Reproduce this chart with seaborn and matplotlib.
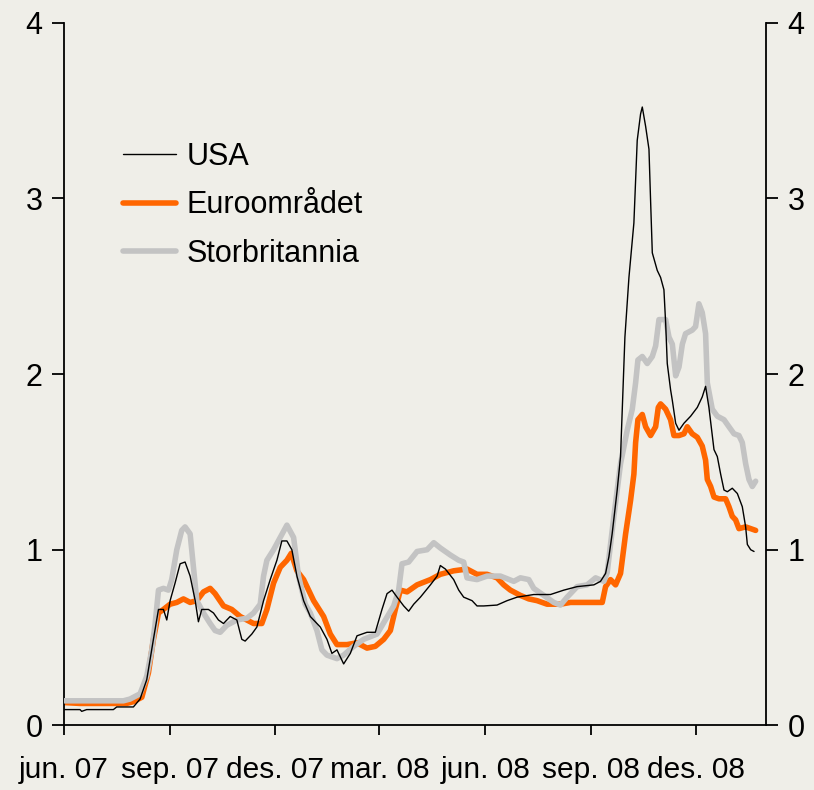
import pandas as pd
import numpy as np
import matplotlib
matplotlib.use('Agg')
import matplotlib.pyplot as plt
import seaborn as sns

# Data: days since 1 June 2007 and spread values
usa_days = [0, 13.9, 15.4, 19.7, 42.9, 45.8, 60.3, 66.1, 71.9, 77.7, 82.1, 86.4, 89.3, 92.2, 96.5,
            100.9, 105.2, 109.6, 114.0, 116.8, 119.7, 125.5, 129.9, 134.2, 138.6, 144.4, 150.2,
            154.5, 157.4, 163.2, 167.6, 173.4, 179.2, 185.0, 189.3, 193.7, 198.0, 202.4, 208.2,
            214.0, 222.7, 228.5, 232.8, 237.2, 243.0, 248.8, 254.6, 263.3, 270.5, 276.3, 280.7,
            285.0, 289.4, 295.2, 299.5, 303.9, 309.7, 318.4, 324.2, 327.0, 331.4, 338.6, 343.0,
            347.3, 354.6, 358.9, 364.7, 376.3, 385.0, 393.7, 408.2, 422.7, 434.3, 445.9, 460.4,
            466.2, 470.6, 473.5, 476.3, 480.7, 483.6, 487.4, 490.9, 495.2, 498.1, 501.0, 502.5,
            505.4, 508.3, 509.7, 511.2, 515.5, 518.4, 521.3, 522.8, 524.2, 527.1, 528.6, 531.5,
            534.4, 538.7, 544.5, 550.3, 554.6, 557.5, 560.4, 564.8, 567.7, 570.6, 573.5, 576.4,
            580.7, 585.1, 589.4, 592.3, 593.8, 596.7, 599.6]
usa_vals = [0.09, 0.09, 0.08, 0.09, 0.09, 0.105, 0.105, 0.15, 0.26, 0.49, 0.66, 0.66, 0.60, 0.71, 0.81,
            0.92, 0.93, 0.85, 0.71, 0.59, 0.66, 0.66, 0.64, 0.60, 0.58, 0.62, 0.60,
            0.49, 0.48, 0.52, 0.56, 0.71, 0.83, 0.94, 1.05, 1.05, 1.00, 0.85, 0.71,
            0.62, 0.56, 0.49, 0.41, 0.43, 0.35, 0.41, 0.51, 0.53, 0.53, 0.66, 0.75,
            0.77, 0.73, 0.68, 0.65, 0.69, 0.73, 0.80, 0.85, 0.91, 0.89, 0.83, 0.77,
            0.73, 0.71, 0.68, 0.68, 0.685, 0.71, 0.73, 0.745, 0.745, 0.77, 0.79, 0.80,
            0.82, 0.865, 0.96, 1.09, 1.34, 1.53, 2.21, 2.55, 2.86, 3.33, 3.48, 3.52,
            3.41, 3.28, 2.99, 2.69, 2.59, 2.55, 2.48, 2.29, 2.06, 1.91, 1.85, 1.72,
            1.68, 1.72, 1.76, 1.81, 1.87, 1.93, 1.81, 1.57, 1.53, 1.43, 1.34, 1.33,
            1.35, 1.32, 1.245, 1.13, 1.03, 1.00, 0.99]

euro_days = [0, 13.9, 54.5, 60.3, 67.6, 73.4, 77.7, 82.1, 86.4, 92.2, 98.0, 103.8, 109.6, 115.4,
             121.2, 127.0, 131.3, 138.6, 145.8, 153.1, 158.9, 164.7, 171.9, 176.3, 182.1, 187.9,
             193.7, 197.5, 202.4, 208.2, 216.9, 225.6, 231.4, 237.2, 245.9, 254.6, 263.3, 270.5,
             277.8, 283.6, 287.9, 292.3, 298.1, 306.8, 318.4, 327.0, 338.6, 350.2, 358.9, 367.6,
             376.3, 382.1, 387.9, 396.6, 403.9, 411.1, 419.8, 431.4, 440.1, 454.6, 467.7, 470.6,
             474.9, 479.3, 483.6, 488.0, 492.3, 495.2, 496.7, 498.7, 502.5, 505.4, 509.7, 514.1,
             516.4, 518.4, 522.8, 527.1, 530.0, 534.4, 538.7, 541.6, 545.9, 550.3, 554.6, 557.5,
             559.0, 561.9, 564.8, 569.1, 574.9, 577.8, 580.7, 583.6, 586.5, 592.3, 596.7, 601.0]
euro_vals = [0.13, 0.125, 0.125, 0.135, 0.16, 0.30, 0.49, 0.64, 0.66, 0.69, 0.70, 0.72, 0.70, 0.71,
             0.76, 0.78, 0.75, 0.68, 0.66, 0.62, 0.60, 0.58, 0.58, 0.66, 0.81, 0.90,
             0.94, 0.98, 0.88, 0.83, 0.71, 0.62, 0.52, 0.46, 0.46, 0.47, 0.44, 0.45,
             0.49, 0.54, 0.66, 0.77, 0.76, 0.80, 0.83, 0.86, 0.88, 0.89, 0.86, 0.86,
             0.84, 0.80, 0.77, 0.74, 0.72, 0.71, 0.69, 0.69, 0.70, 0.70, 0.70, 0.79,
             0.83, 0.80, 0.865, 1.09, 1.28, 1.43, 1.61, 1.74, 1.77, 1.70, 1.65, 1.70,
             1.81, 1.83, 1.80, 1.74, 1.65, 1.65, 1.66, 1.70, 1.66, 1.64, 1.59, 1.51,
             1.40, 1.36, 1.30, 1.29, 1.29, 1.245, 1.19, 1.17, 1.12, 1.13, 1.12, 1.11]

uk_days = [0, 51.6, 57.4, 66.1, 71.9, 76.3, 79.2, 82.1, 86.4, 90.8, 93.6, 98.0, 102.3, 105.2,
           109.6, 112.5, 115.4, 121.2, 127.0, 131.3, 135.7, 141.5, 150.2, 158.9, 164.7, 170.5,
           173.4, 176.3, 182.1, 187.9, 193.7, 199.5, 203.8, 209.6, 214.0, 219.8, 224.1, 228.5,
           237.2, 243.0, 251.7, 260.4, 272.0, 279.2, 286.5, 290.8, 293.7, 299.5, 306.8, 315.5,
           321.3, 327.0, 335.7, 343.0, 347.3, 350.2, 358.9, 367.6, 379.2, 390.8, 396.6, 403.9,
           408.2, 416.9, 425.6, 431.4, 437.2, 445.9, 454.6, 461.9, 469.1, 472.0, 477.8, 483.6,
           489.4, 493.8, 496.7, 498.7, 502.5, 506.8, 511.2, 514.1, 517.0, 522.8, 525.7, 528.6,
           531.5, 534.4, 537.3, 540.1, 545.9, 548.8, 551.7, 554.6, 557.5, 559.0, 563.3, 567.7,
           573.5, 577.8, 582.2, 586.5, 589.4, 592.3, 595.2, 598.1, 601.0]
uk_vals = [0.14, 0.14, 0.15, 0.18, 0.28, 0.43, 0.58, 0.77, 0.78, 0.77, 0.83, 1.00, 1.11, 1.13,
           1.09, 0.90, 0.71, 0.64, 0.58, 0.54, 0.53, 0.57, 0.60, 0.61, 0.64, 0.69,
           0.85, 0.94, 1.00, 1.07, 1.14, 1.07, 0.85, 0.69, 0.64, 0.54, 0.43, 0.40,
           0.38, 0.40, 0.45, 0.49, 0.52, 0.60, 0.68, 0.77, 0.92, 0.93, 0.99, 1.00,
           1.04, 1.01, 0.97, 0.94, 0.93, 0.84, 0.83, 0.85, 0.85, 0.82, 0.84, 0.83,
           0.78, 0.74, 0.70, 0.685, 0.73, 0.79, 0.80, 0.84, 0.82, 0.87, 1.19, 1.49,
           1.68, 1.80, 1.95, 2.08, 2.10, 2.06, 2.10, 2.16, 2.31, 2.31, 2.21, 2.17,
           1.99, 2.04, 2.17, 2.23, 2.25, 2.27, 2.40, 2.35, 2.23, 1.95, 1.80, 1.76,
           1.74, 1.70, 1.66, 1.65, 1.61, 1.49, 1.40, 1.36, 1.39]

tick_dates = ['2007-06-01', '2007-09-01', '2007-12-01', '2008-03-01', '2008-06-01', '2008-09-01', '2008-12-01']
tick_labels = ['jun. 07', 'sep. 07', 'des. 07', 'mar. 08', 'jun. 08', 'sep. 08', 'des. 08']
y_ticks = [0, 1, 2, 3, 4]

start = pd.Timestamp('2007-06-01')


def to_dates(days):
    return start + pd.to_timedelta(np.array(days), unit='D')


bg = '#efeee8'
sns.set_theme(style='ticks')
plt.rcParams['font.family'] = ['Liberation Sans', 'DejaVu Sans']
plt.rcParams['text.color'] = 'black'

fig = plt.figure(figsize=(8.14, 7.90), dpi=100, facecolor=bg)
ax = fig.add_axes([64 / 814, 1 - 725.4 / 790, (766 - 64) / 814, (725.4 - 22.7) / 790])
ax.set_facecolor(bg)

sns.lineplot(x=to_dates(usa_days), y=usa_vals, ax=ax, color='black', lw=1.0,
             label='USA', zorder=4)
sns.lineplot(x=to_dates(euro_days), y=euro_vals, ax=ax, color='#ff6600', lw=4.0,
             label='Euroområdet', zorder=2)
sns.lineplot(x=to_dates(uk_days), y=uk_vals, ax=ax, color='#c3c3c3', lw=4.0,
             label='Storbritannia', zorder=3)

ax.set_xlim(start, pd.Timestamp('2009-01-31'))
ax.set_ylim(0, 4)
ax.set_xticks(pd.to_datetime(tick_dates))
ax.set_xticklabels(tick_labels)
ax.set_yticks(y_ticks)
ax.set_yticklabels([str(v) for v in y_ticks])
ax.set_xlabel('')
ax.set_ylabel('')

for side in ['left', 'right', 'bottom']:
    ax.spines[side].set_visible(True)
    ax.spines[side].set_linewidth(1.3)
    ax.spines[side].set_color('black')
ax.spines['top'].set_visible(False)

ax.tick_params(axis='y', which='both', left=True, right=True, labelleft=True, labelright=True,
               direction='out', length=8.5, width=1.3, labelsize=22, pad=7, colors='black')
ax.tick_params(axis='x', direction='out', length=7, width=1.3, labelsize=21.5, pad=15,
               colors='black')
ax.grid(False)

leg = ax.legend(loc='upper left', bbox_to_anchor=(123 / 814, 1 - 142 / 790),
                bbox_transform=fig.transFigure, frameon=False, fontsize=22,
                handlelength=1.75, handletextpad=0.33, labelspacing=0.6,
                borderpad=0, borderaxespad=0)
for t in leg.get_texts():
    t.set_color('black')

fig.savefig('out.png', dpi=100, facecolor=bg)
